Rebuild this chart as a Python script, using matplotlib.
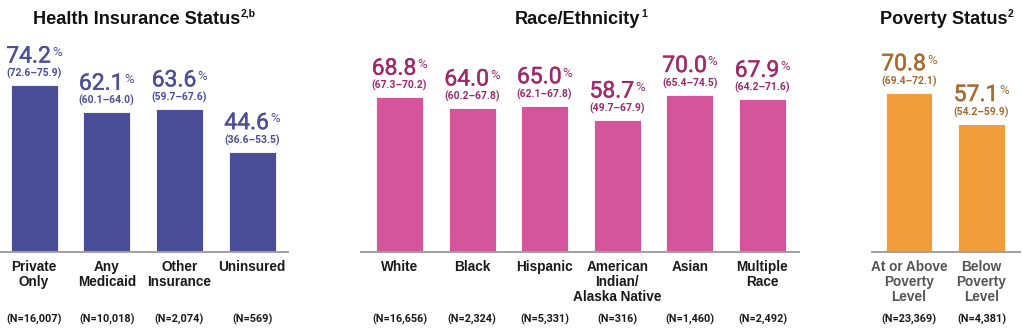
import matplotlib
matplotlib.use("Agg")
import matplotlib.pyplot as plt
import matplotlib.patheffects as pe
from matplotlib.font_manager import FontProperties

# ===================
# DATA
# ===================
insurance_labels = ["Private\nOnly", "Any\nMedicaid", "Other\nInsurance", "Uninsured"]
insurance_values = [74.2, 62.1, 63.6, 44.6]
insurance_ci = ["(72.6\u201375.9)", "(60.1\u201364.0)", "(59.7\u201367.6)", "(36.6\u201353.5)"]
insurance_n = ["(N=16,007)", "(N=10,018)", "(N=2,074)", "(N=569)"]

race_labels = ["White", "Black", "Hispanic", "American\nIndian/\nAlaska Native", "Asian", "Multiple\nRace"]
race_values = [68.8, 64.0, 65.0, 58.7, 70.0, 67.9]
race_ci = ["(67.3\u201370.2)", "(60.2\u201367.8)", "(62.1\u201367.8)", "(49.7\u201367.9)",
           "(65.4\u201374.5)", "(64.2\u201371.6)"]
race_n = ["(N=16,656)", "(N=2,324)", "(N=5,331)", "(N=316)", "(N=1,460)", "(N=2,492)"]

poverty_labels = ["At or Above\nPoverty\nLevel", "Below\nPoverty\nLevel"]
poverty_values = [70.8, 57.1]
poverty_ci = ["(69.4\u201372.1)", "(54.2\u201359.9)"]
poverty_n = ["(N=23,369)", "(N=4,381)"]

# ===================
# CONFIGURATION
# ===================
W, H = 1022, 329
DPI = 100
BASE_Y = 252          # pixel row of the baseline
Y_MAX = 112           # value at the top edge of the figure
BAR_W = 0.647
HEAD = "Liberation Sans"
NUM = "Roboto"

PANELS = [
    dict(title="Health Insurance Status", sup="2,b", tx=33, left=0, right=288,
         xlim=(-0.468, 3.494), labels=insurance_labels, values=insurance_values,
         ci=insurance_ci, n=insurance_n, bar="#4a4e97", text="#4b4f98", cat="#1a1a1a"),
    dict(title="Race/Ethnicity", sup="1", tx=515, left=361, right=799,
         xlim=(-0.53, 5.503), labels=race_labels, values=race_values,
         ci=race_ci, n=race_n, bar="#d4559b", text="#9e2a6b", cat="#1a1a1a"),
    dict(title="Poverty Status", sup="2", tx=880, left=872, right=1020,
         xlim=(-0.51, 1.531), labels=poverty_labels, values=poverty_values,
         ci=poverty_ci, n=poverty_n, bar="#f29d3c", text="#a8692f", cat="#555555"),
]

fig = plt.figure(figsize=(W / DPI, H / DPI), dpi=DPI)
renderer = fig.canvas.get_renderer()


def text_width(s, size, family, weight):
    fp = FontProperties(family=family, size=size, weight=weight)
    w, _, _ = renderer.get_text_width_height_descent(s, fp, ismath=False)
    return w * 72.0 / DPI  # points


def fx(px):
    return px / W


def fy(py):
    return 1 - py / H


NUM_SIZE, PCT_SIZE = 16.5, 9.5
NUM_WEIGHT = "normal"

for p in PANELS:
    ax = fig.add_axes([fx(p["left"]), fy(BASE_Y), fx(p["right"] - p["left"]), BASE_Y / H])
    x = list(range(len(p["values"])))
    ax.bar(x, p["values"], width=BAR_W, color=p["bar"], edgecolor="#ffffff", linewidth=0.6, zorder=2)
    ax.set_xlim(*p["xlim"])
    ax.set_ylim(0, Y_MAX)
    ax.set_xticks([])
    ax.set_yticks([])
    ax.patch.set_alpha(0)
    for s in ["top", "left", "right"]:
        ax.spines[s].set_visible(False)
    ax.spines["bottom"].set_color("#a0a0a0")
    ax.spines["bottom"].set_linewidth(1.4)
    ax.spines["bottom"].set_zorder(3)

    # thin outline gives the regular face a medium weight
    thicken = [pe.withStroke(linewidth=0.3, foreground=p["text"])]

    for i, v in enumerate(p["values"]):
        num = f"{v:.1f}"
        wn = text_width(num, NUM_SIZE, NUM, NUM_WEIGHT)
        wp = text_width("%", PCT_SIZE, NUM, NUM_WEIGHT)
        gap = 0.8
        half = (wn + wp + gap) / 2
        ax.annotate(num, (i, v), xytext=(-half, 16.2), textcoords="offset points",
                    ha="left", va="baseline", fontsize=NUM_SIZE, family=NUM,
                    weight=NUM_WEIGHT, color=p["text"], annotation_clip=False,
                    path_effects=thicken)
        ax.annotate("%", (i, v), xytext=(-half + wn + gap, 21.0), textcoords="offset points",
                    ha="left", va="baseline", fontsize=PCT_SIZE, family=NUM,
                    weight=NUM_WEIGHT, color=p["text"], annotation_clip=False)
        ax.annotate(p["ci"][i], (i, v), xytext=(0, 6.0), textcoords="offset points",
                    ha="center", va="baseline", fontsize=7.5, family=NUM,
                    weight="bold", color=p["text"], annotation_clip=False)

        # category label, one line at a time
        for k, line in enumerate(p["labels"][i].split("\n")):
            ax.annotate(line, (i, 0), xytext=(0, -(11.0 + k * 10.8)), textcoords="offset points",
                        ha="center", va="center", fontsize=9.8, family=HEAD,
                        weight="bold", color=p["cat"], annotation_clip=False)

        ax.annotate(p["n"][i], (i, 0), xytext=(0, -48.3), textcoords="offset points",
                    ha="center", va="center", fontsize=7.8, family=NUM,
                    weight="bold", color="#1a1a1a", annotation_clip=False)

    # panel title with superscript
    t_size = 13.1
    fig.text(fx(p["tx"]), fy(24), p["title"], ha="left", va="baseline",
             fontsize=t_size, family=HEAD, weight="bold", color="#111111")
    wt = text_width(p["title"], t_size, HEAD, "bold") * DPI / 72.0
    fig.text(fx(p["tx"] + wt + 0.5), fy(17), p["sup"], ha="left", va="baseline",
             fontsize=7.5, family=HEAD, weight="bold", color="#111111")

fig.savefig("out.png", dpi=DPI)
